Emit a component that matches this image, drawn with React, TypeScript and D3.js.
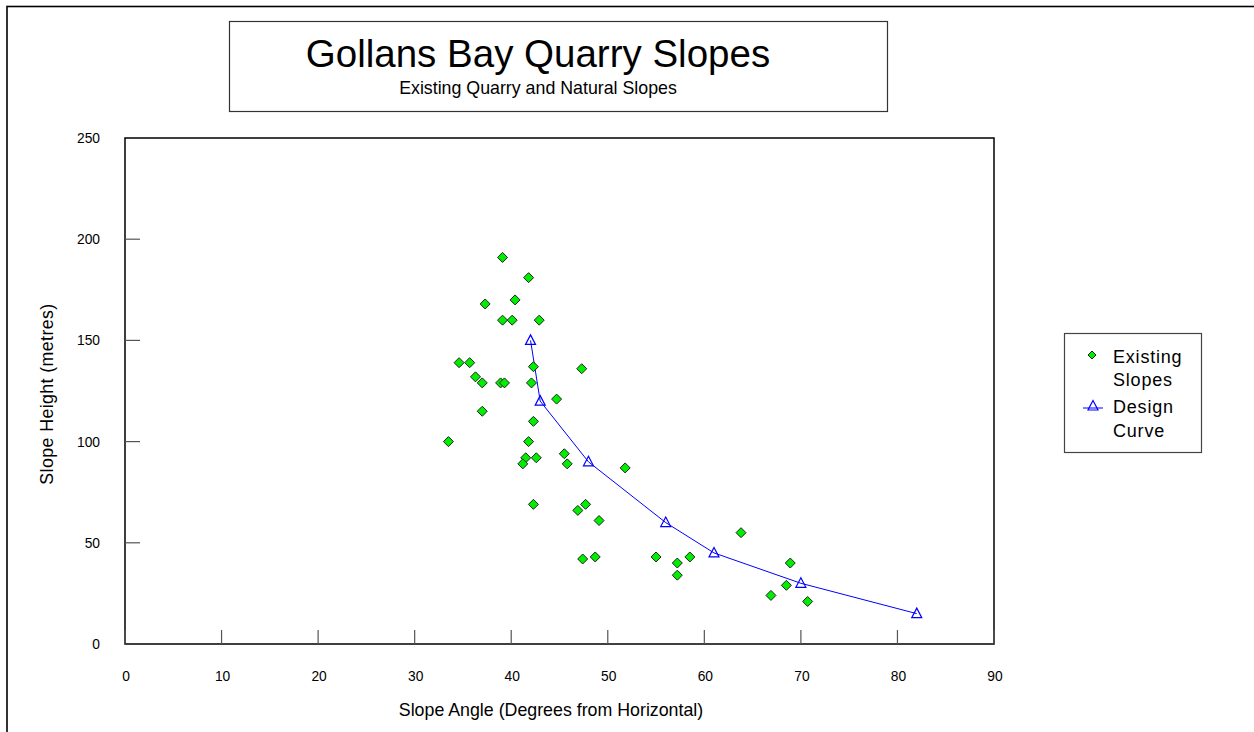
import * as d3 from 'd3';

const existingAngle = [39.1, 41.8, 37.3, 40.4, 39.1, 40.1, 42.9, 34.6, 35.7, 42.3, 47.3, 36.3, 37.0, 38.9, 39.3, 42.1, 44.7, 37.0, 42.3, 33.5, 41.8, 41.5, 41.2, 42.6, 45.5, 45.8, 51.8, 42.3, 47.7, 46.9, 49.1, 47.4, 48.7, 55.0, 63.8, 57.2, 58.5, 57.2, 68.9, 68.5, 66.9, 70.7];
const existingHeight = [191, 181, 168, 170, 160, 160, 160, 139, 139, 137, 136, 132, 129, 129, 129, 129, 121, 115, 110, 100, 100, 92, 89, 92, 94, 89, 87, 69, 69, 66, 61, 42, 43, 43, 55, 40, 43, 34, 40, 29, 24, 21];

const designAngle = [42, 43, 48, 56, 61, 70, 82];
const designHeight = [150, 120, 90, 60, 45, 30, 15];

const xTicks = [0, 10, 20, 30, 40, 50, 60, 70, 80, 90];
const yTicks = [0, 50, 100, 150, 200, 250];

const font = '"Liberation Sans", Arial, sans-serif';

const App = () => {
    const left = 125, right = 994, top = 138, bottom = 644;

    const x = d3.scaleLinear().domain([0, 90]).range([left, right]);
    const y = d3.scaleLinear().domain([0, 250]).range([bottom, top]);

    const existing = existingAngle.map((a, i) => [a, existingHeight[i]]);
    const design = designAngle.map((a, i) => [a, designHeight[i]]);

    const line = d3.line().x(d => x(d[0])).y(d => y(d[1]));

    const diamond = (cx, cy, r) => `M${cx},${cy - r}L${cx + r},${cy}L${cx},${cy + r}L${cx - r},${cy}Z`;
    const triangle = (cx, cy) => `M${cx},${cy - 5.5}L${cx + 5},${cy + 4}L${cx - 5},${cy + 4}Z`;

    return (
        <svg width={1254} height={732} style={{ position: 'absolute', left: 0, top: 0, background: '#fff' }} fontFamily={font}>
            {/* outer frame */}
            <rect x={7} y={6.5} width={1270} height={760} fill="none" stroke="#000" strokeWidth={1.6} />

            {/* title box */}
            <rect x={229.5} y={21.5} width={658} height={90} fill="#fff" stroke="#333" strokeWidth={1.2} />
            <text x={538} y={67} textAnchor="middle" fontSize={38.5}>Gollans Bay Quarry Slopes</text>
            <text x={538} y={94} textAnchor="middle" fontSize={17.8}>Existing Quarry and Natural Slopes</text>

            {/* plot area */}
            <rect x={left} y={top} width={right - left} height={bottom - top} fill="none" stroke="#000" strokeWidth={1.5} />

            {xTicks.map(t => (
                <g key={'x' + t}>
                    <line x1={x(t)} x2={x(t)} y1={bottom} y2={bottom - 14} stroke="#555" strokeWidth={1.2} />
                    <text x={x(t) + 1} y={681} textAnchor="middle" fontSize={13.8}>{t}</text>
                </g>
            ))}
            {yTicks.map(t => (
                <g key={'y' + t}>
                    {t > 0 && t < 250 && <line x1={left} x2={left + 15} y1={y(t)} y2={y(t)} stroke="#555" strokeWidth={1.2} />}
                    <text x={100} y={y(t) + 5} textAnchor="end" fontSize={13.8}>{t}</text>
                </g>
            ))}

            <text x={551} y={716} textAnchor="middle" fontSize={17.8}>Slope Angle (Degrees from Horizontal)</text>
            <text transform="translate(53,394) rotate(-90)" textAnchor="middle" fontSize={17.8} letterSpacing={0.4}>Slope Height (metres)</text>

            {/* design curve */}
            <path d={line(design)} fill="none" stroke="#0000ff" strokeWidth={1} />
            {design.map((d, i) => (
                <path key={'t' + i} d={triangle(x(d[0]), y(d[1]))} fill="#fff" fillOpacity={0} stroke="#0000ff" strokeWidth={1.2} />
            ))}

            {/* existing slopes */}
            {existing.map((d, i) => (
                <path key={'d' + i} d={diamond(x(d[0]), y(d[1]), 5)} fill="#00ee00" stroke="#222" strokeWidth={1} />
            ))}

            {/* legend */}
            <rect x={1064.5} y={333.5} width={137} height={119} fill="#fff" stroke="#444" strokeWidth={1.2} />
            <path d={diamond(1092, 355, 4)} fill="#00ee00" stroke="#222" strokeWidth={1} />
            <text x={1113} y={363} fontSize={18} letterSpacing={0.8}>Existing</text>
            <text x={1113} y={386} fontSize={18} letterSpacing={0.8}>Slopes</text>
            <line x1={1083} x2={1103} y1={408} y2={408} stroke="#0000ff" strokeWidth={1} />
            <path d={triangle(1093, 406)} fill="none" stroke="#0000ff" strokeWidth={1.2} />
            <text x={1113} y={413} fontSize={18} letterSpacing={0.8}>Design</text>
            <text x={1113} y={437} fontSize={18} letterSpacing={0.8}>Curve</text>
        </svg>
    );
};

export default App;
